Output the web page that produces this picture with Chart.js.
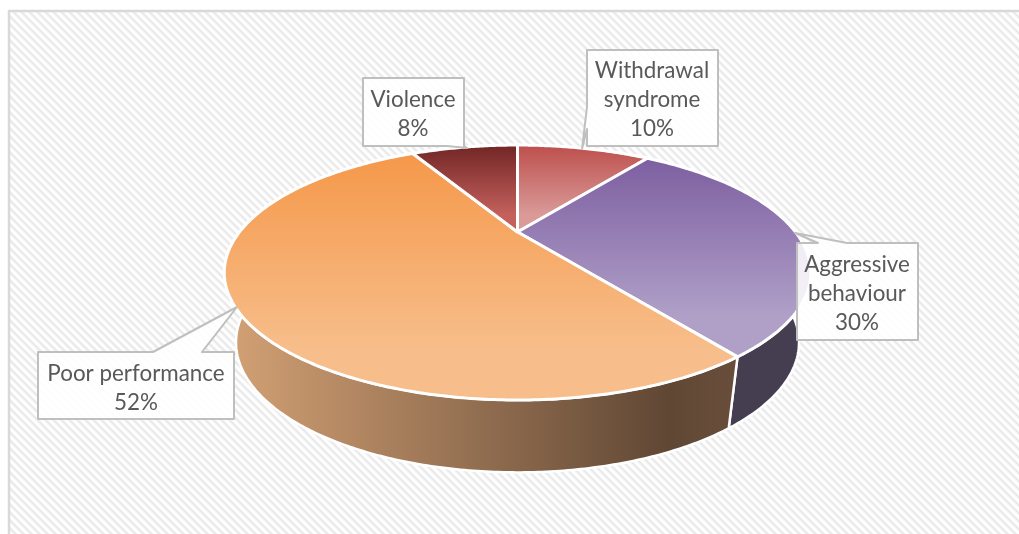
<!DOCTYPE html>
<html>
<head>
<meta charset="utf-8">
<title>Pie</title>
<style>
  html, body { margin: 0; padding: 0; background: #fff; }
  canvas { display: block; }
</style>
<script src="https://cdn.jsdelivr.net/npm/chart.js@4"></script>
</head>
<body>
<canvas id="pieChart" width="1019" height="534"></canvas>
<script>
const categories = ["Withdrawal syndrome", "Aggressive behaviour", "Poor performance", "Violence"];
const shares = [10, 30, 52, 8];

const labelLines = [["Withdrawal", "syndrome"], ["Aggressive", "behaviour"], ["Poor performance"], ["Violence"]];

// gradient ends of the top face of each slice
const topColors = ["#bd4f4c", "#7d5fa0", "#f5984a", "#712625"];
const bottomColors = ["#d99a98", "#b0a0c8", "#f7be8b", "#c4605c"];

// callout outlines, box plus pointer as one polygon
const callouts = [
  { outline: [[587, 50], [718, 50], [718, 146], [587, 146], [587, 129], [582, 149], [587, 107]], centerX: 652, firstLine: 71 },
  { outline: [[797, 243], [818, 243], [795, 233], [847, 243], [918, 243], [918, 340], [797, 340]], centerX: 857, firstLine: 265 },
  { outline: [[38, 352], [153, 352], [237, 307], [202, 352], [234, 352], [234, 419], [38, 419]], centerX: 136, firstLine: 374 },
  { outline: [[363, 78], [464, 78], [464, 146], [467, 148], [447, 146], [363, 146]], centerX: 413, firstLine: 100 },
];

// tilt of the disc, relative to the radius the library gives the arcs
const TILT = 0.318;
const STRETCH_X = 278 / 232;
const STRETCH_Y = 114.6 / 232;
const DEPTH = 69;
const FLOOR_SCALE_X = 0.96;
const FLOOR_SCALE_Y = 1.02;

/**
 * Project a point of the flat disc into the tilted view.
 */
function project(el, angle) {
  const u = Math.cos(angle);
  const v = Math.sin(angle);
  const w = 1 - TILT * v;
  return {
    x: el.x + (el.outerRadius * STRETCH_X * u) / w,
    y: el.y + (el.outerRadius * STRETCH_Y * v) / w,
  };
}

function rimPoints(el) {
  const { startAngle, endAngle } = el.getProps(["startAngle", "endAngle"], true);
  const steps = Math.max(8, Math.ceil((endAngle - startAngle) * 90));
  const points = [];
  for (let i = 0; i <= steps; i++) {
    points.push(project(el, startAngle + ((endAngle - startAngle) * i) / steps));
  }
  return points;
}

function hatchPattern(ctx) {
  const tile = document.createElement("canvas");
  tile.width = 8;
  tile.height = 8;
  const t = tile.getContext("2d");
  t.fillStyle = "#ffffff";
  t.fillRect(0, 0, 8, 8);
  for (let y = 0; y < 8; y++) {
    for (let x = 0; x < 8; x++) {
      const d = (x - y + 16) % 8;
      if (d < 4) {
        t.fillStyle = d === 0 || d === 3 ? "#f3f3f3" : "#e9e9e9";
        t.fillRect(x, y, 1, 1);
      } else if (d === 4 || d === 7) {
        t.fillStyle = "#fbfbfb";
        t.fillRect(x, y, 1, 1);
      }
    }
  }
  return ctx.createPattern(tile, "repeat");
}

function tracePolygon(ctx, points) {
  ctx.beginPath();
  points.forEach(([x, y], i) => (i ? ctx.lineTo(x, y) : ctx.moveTo(x, y)));
  ctx.closePath();
}

// top face of a slice: same arc, seen through the tilt
Chart.ArcElement.prototype.draw = function (ctx) {
  const index = this.$context.dataIndex;
  const points = rimPoints(this);
  const ys = points.map((p) => p.y).concat(this.y);
  const gradient = ctx.createLinearGradient(0, Math.min(...ys), 0, Math.max(...ys));
  gradient.addColorStop(0, topColors[index]);
  gradient.addColorStop(0.8, bottomColors[index]);
  gradient.addColorStop(1, bottomColors[index]);

  ctx.beginPath();
  ctx.moveTo(this.x, this.y);
  points.forEach((p) => ctx.lineTo(p.x, p.y));
  ctx.closePath();
  ctx.fillStyle = gradient;
  ctx.fill();
  ctx.lineJoin = "round";
  ctx.lineWidth = 3;
  ctx.strokeStyle = "#ffffff";
  ctx.stroke();
};

const backdropPlugin = {
  id: "backdrop",
  beforeDraw(chart) {
    const { ctx, width, height } = chart;
    ctx.save();
    ctx.fillStyle = hatchPattern(ctx);
    ctx.fillRect(9, 11, width - 9, height - 11);
    // frame runs off the right and bottom of the picture
    ctx.strokeStyle = "#d9d9d9";
    ctx.lineWidth = 2.5;
    ctx.beginPath();
    ctx.moveTo(9, height);
    ctx.lineTo(9, 11);
    ctx.lineTo(width, 11);
    ctx.stroke();
    ctx.restore();
  },
};

const wallPlugin = {
  id: "wall",
  beforeDatasetsDraw(chart) {
    const { ctx } = chart;
    const arcs = chart.getDatasetMeta(0).data;
    ctx.save();
    arcs.forEach((el, index) => {
      const top = rimPoints(el);
      const floor = top
        .map((p) => ({
          x: el.x + (p.x - el.x) * FLOOR_SCALE_X,
          y: el.y + (p.y - el.y) * FLOOR_SCALE_Y + DEPTH,
        }))
        .reverse();
      let fill = "#453e50";
      if (index === 2) {
        fill = ctx.createLinearGradient(232, 0, 729, 0);
        fill.addColorStop(0, "#d2a074");
        fill.addColorStop(0.88, "#604734");
        fill.addColorStop(1, "#684e3a");
      }
      ctx.beginPath();
      top.concat(floor).forEach((p, i) => (i ? ctx.lineTo(p.x, p.y) : ctx.moveTo(p.x, p.y)));
      ctx.closePath();
      ctx.fillStyle = fill;
      ctx.fill();
      ctx.lineJoin = "round";
      ctx.lineWidth = 2.5;
      ctx.strokeStyle = "#ffffff";
      ctx.stroke();
    });
    ctx.restore();
  },
};

const calloutPlugin = {
  id: "callouts",
  afterDatasetsDraw(chart) {
    const { ctx } = chart;
    ctx.save();
    callouts.forEach((c, index) => {
      tracePolygon(ctx, c.outline);
      ctx.fillStyle = "rgba(255,255,255,0.85)";
      ctx.fill();
      ctx.lineWidth = 2;
      ctx.strokeStyle = "#bfbfbf";
      ctx.stroke();

      ctx.fillStyle = "#595959";
      ctx.font = "22.4px Lato";
      ctx.textAlign = "center";
      ctx.textBaseline = "middle";
      const lines = labelLines[index].concat(`${shares[index]}%`);
      lines.forEach((line, i) => ctx.fillText(line, c.centerX, c.firstLine + i * 29));
    });
    ctx.restore();
  },
};

new Chart(document.getElementById("pieChart"), {
  type: "pie",
  data: {
    labels: categories,
    datasets: [{ data: shares, backgroundColor: topColors, borderWidth: 0 }],
  },
  options: {
    responsive: false,
    animation: false,
    layout: { padding: { left: 16, right: 0, top: 0, bottom: 70 } },
    plugins: { legend: { display: false }, tooltip: { enabled: false } },
  },
  plugins: [backdropPlugin, wallPlugin, calloutPlugin],
});
</script>
</body>
</html>
